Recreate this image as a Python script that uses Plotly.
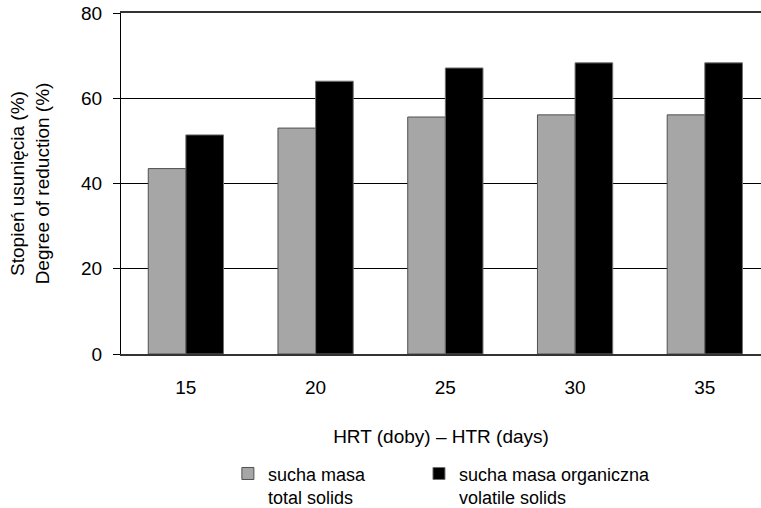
import plotly.graph_objects as go

categories = ["15", "20", "25", "30", "35"]
total_solids = [43.5, 53.0, 55.6, 56.1, 56.1]
volatile_solids = [51.4, 64.0, 67.1, 68.3, 68.3]
series_names = ["sucha masa<br>total solids", "sucha masa organiczna<br>volatile solids"]
y_ticks = [0, 20, 40, 60, 80]

FONT = "Liberation Sans, Arial, sans-serif"
FS = 19

fig = go.Figure()
fig.add_trace(go.Bar(
    x=categories, y=total_solids, name=series_names[0], legend="legend",
    marker=dict(color="#a6a6a6", line=dict(color="#505050", width=1)),
))
fig.add_trace(go.Bar(
    x=categories, y=volatile_solids, name=series_names[1], legend="legend2",
    marker=dict(color="#000000", line=dict(color="#707070", width=1)),
))

leg_common = dict(orientation="h", xanchor="left", yanchor="top", valign="top",
                  font=dict(size=18), bgcolor="rgba(0,0,0,0)")

fig.update_layout(
    width=761, height=508,
    margin=dict(l=121, r=0, t=13, b=154, autoexpand=False),
    paper_bgcolor="white", plot_bgcolor="white",
    font=dict(family=FONT, size=FS, color="#000000"),
    barmode="group", bargap=0.42, bargroupgap=0,
    showlegend=True,
    legend=dict(x=0.167, y=-0.297, **leg_common),
    legend2=dict(x=0.4656, y=-0.297, **leg_common),
    xaxis=dict(
        type="category", range=[-0.5, 4.433], automargin=False,
        showline=True, mirror=True, linecolor="#333333", linewidth=2,
        ticks="", showgrid=False,
        ticklabelstandoff=15,
        title=dict(text="HRT (doby) – HTR (days)", standoff=33, font=dict(size=FS)),
        tickfont=dict(size=FS),
    ),
    yaxis=dict(
        range=[0, 80], tickvals=y_ticks, automargin=False,
        showline=True, linecolor="#000000", linewidth=1,
        ticks="outside", ticklen=7, tickcolor="#000000",
        ticklabelstandoff=7,
        showgrid=True, gridcolor="#000000", gridwidth=1,
        zeroline=False,
        tickfont=dict(size=FS),
        title=dict(text="Stopień usunięcia (%)<br>Degree of reduction (%)", standoff=26, font=dict(size=FS)),
    ),
)

fig.write_html("out.html", config={"displayModeBar": False},
               post_script="document.body.style.margin='0';")
